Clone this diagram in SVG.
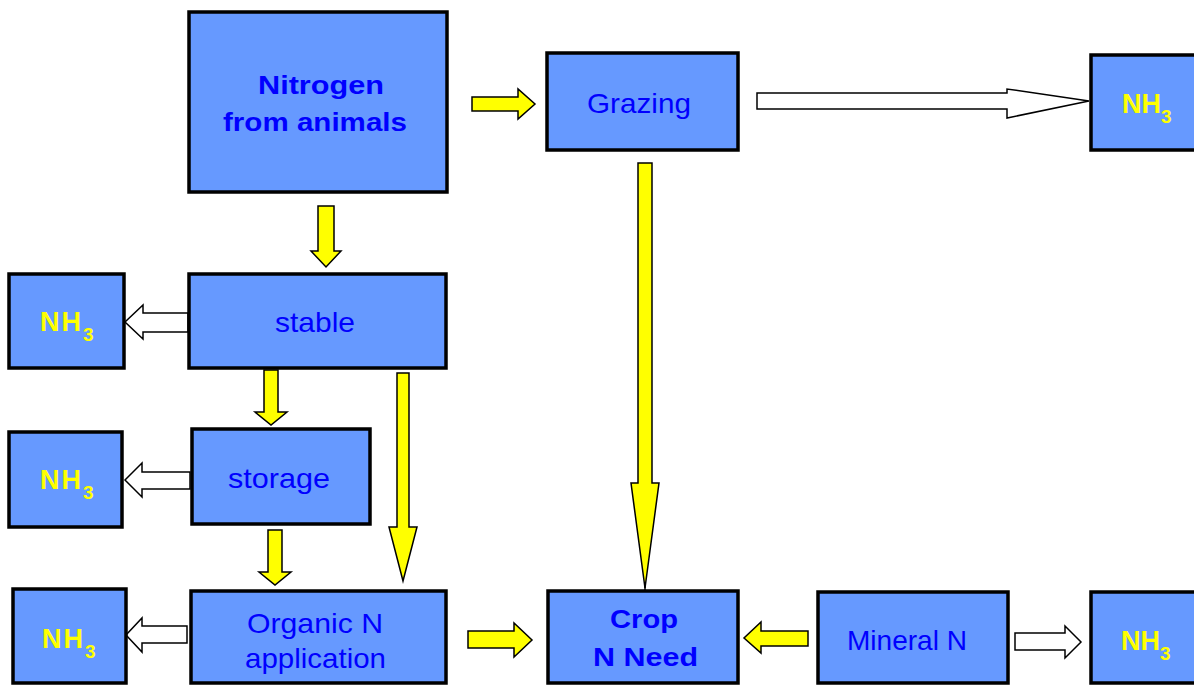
<svg xmlns="http://www.w3.org/2000/svg" width="1194" height="686" viewBox="0 0 1194 686">
<style>
.box{fill:#6699ff;stroke:#000;stroke-width:3.5}
.t{font-family:"Liberation Sans",Arial,sans-serif;font-size:28px;fill:#0000ff;text-anchor:middle}
.tb{font-family:"Liberation Sans",Arial,sans-serif;font-size:26px;font-weight:bold;fill:#0000ff;text-anchor:middle}
.nh{font-family:"Liberation Sans",Arial,sans-serif;font-size:27px;font-weight:bold;fill:#ffff00}
.sp{letter-spacing:2px}
.sub{font-size:19px}
.ya{fill:#ffff00;stroke:#000;stroke-width:1.5;stroke-linejoin:miter}
.wa{fill:#fff;stroke:#000;stroke-width:1.5;stroke-linejoin:miter}
</style>
<rect width="1194" height="686" fill="#fff"/>
<g id="connectors">
<polygon class="ya" points="472,97 518,97 518,89 535,104 518,119 518,111 472,111"/>
<polygon class="ya" points="318,206 334,206 334,251 341,251 326,267 311,251 318,251"/>
<polygon class="ya" points="264,370 278,370 278,412 287,412 271,425 255,412 264,412"/>
<polygon class="ya" points="268,530 282,530 282,572 291,572 275,585 259,572 268,572"/>
<polygon class="ya" points="397,373 409,373 409,527 417,527 403,581 389,527 397,527"/>
<polygon class="ya" points="638,163 652,163 652,483 659,483 645,588 631,483 638,483"/>
<line x1="645" y1="586" x2="645" y2="591" stroke="#000" stroke-width="1.5"/>
<polygon class="ya" points="468,631 514,631 514,623 532,640 514,657 514,648 468,648"/>
<polygon class="ya" points="808,631 761,631 761,622 744,638 761,653 761,646 808,646"/>
<polygon class="wa" points="757,93 1007,93 1007,89 1089,101 1007,118 1007,109 757,109"/>
<polygon class="wa" points="188,313 143,313 143,305 125,322 143,339 143,332 188,332"/>
<polygon class="wa" points="190,472 142,472 142,463 125,480 142,497 142,489 190,489"/>
<polygon class="wa" points="187,626 142,626 142,618 126,635 142,652 142,643 187,643"/>
<polygon class="wa" points="1015,633 1065,633 1065,626 1081,642 1065,658 1065,650 1015,650"/>
</g>
<g id="nitrogen">
<rect class="box" x="189" y="12" width="258" height="180"/>
<text class="tb" x="321" y="94" textLength="126" lengthAdjust="spacingAndGlyphs">Nitrogen</text>
<text class="tb" x="315" y="131" textLength="184" lengthAdjust="spacingAndGlyphs">from animals</text>
</g>
<g id="grazing">
<rect class="box" x="547" y="53" width="191" height="97"/>
<text class="t" x="639" y="113" textLength="104" lengthAdjust="spacingAndGlyphs">Grazing</text>
</g>
<g id="nh3-top-right">
<rect class="box" x="1091" y="55" width="110" height="95"/>
<text class="nh" x="1122" y="113">NH<tspan class="sub" dy="10">3</tspan></text>
</g>
<g id="stable">
<rect class="box" x="189" y="274" width="257" height="94"/>
<text class="t" x="315" y="332" textLength="80" lengthAdjust="spacingAndGlyphs">stable</text>
</g>
<g id="nh3-stable">
<rect class="box" x="9" y="274" width="115" height="94"/>
<text class="nh sp" x="40" y="331">NH<tspan class="sub" dy="10">3</tspan></text>
</g>
<g id="storage">
<rect class="box" x="192" y="429" width="178" height="95"/>
<text class="t" x="279" y="488" textLength="102" lengthAdjust="spacingAndGlyphs">storage</text>
</g>
<g id="nh3-storage">
<rect class="box" x="9" y="432" width="113" height="95"/>
<text class="nh sp" x="40" y="489">NH<tspan class="sub" dy="10">3</tspan></text>
</g>
<g id="organic">
<rect class="box" x="191" y="591" width="255" height="92"/>
<text class="t" x="315" y="633" textLength="136" lengthAdjust="spacingAndGlyphs">Organic  N</text>
<text class="t" x="315.5" y="668" textLength="141" lengthAdjust="spacingAndGlyphs">application</text>
</g>
<g id="nh3-organic">
<rect class="box" x="13" y="589" width="113" height="94"/>
<text class="nh sp" x="42" y="648">NH<tspan class="sub" dy="10">3</tspan></text>
</g>
<g id="crop">
<rect class="box" x="548" y="591" width="190" height="92"/>
<text class="tb" x="644" y="628" textLength="68" lengthAdjust="spacingAndGlyphs">Crop</text>
<text class="tb" x="645.5" y="666" textLength="105" lengthAdjust="spacingAndGlyphs">N Need</text>
</g>
<g id="mineral">
<rect class="box" x="818" y="592" width="190" height="91"/>
<text class="t" x="907" y="650" textLength="120" lengthAdjust="spacingAndGlyphs">Mineral N</text>
</g>
<g id="nh3-mineral">
<rect class="box" x="1091" y="592" width="110" height="91"/>
<text class="nh" x="1121" y="650">NH<tspan class="sub" dy="10">3</tspan></text>
</g>
</svg>
